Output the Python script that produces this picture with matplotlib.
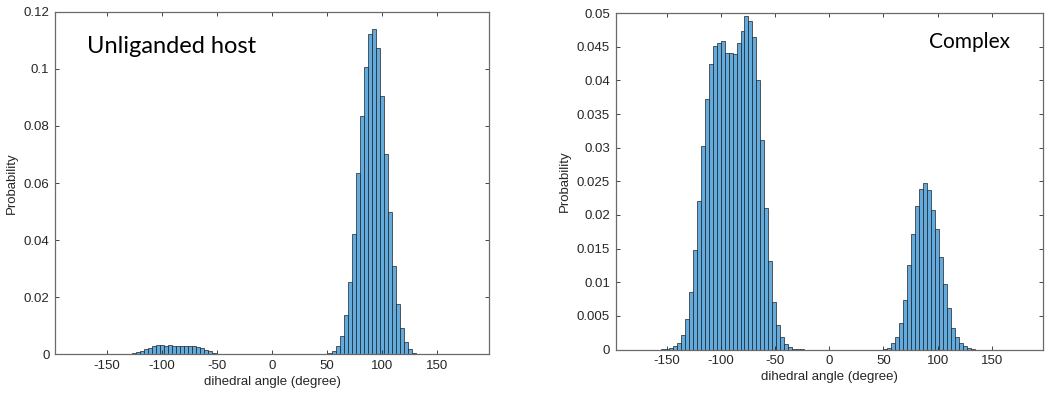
import numpy as np
import matplotlib
matplotlib.use("Agg")
import matplotlib.pyplot as plt
from matplotlib.ticker import FuncFormatter

# --- data (probability per bin) ---
host_bin_w = 3.64
host_lump_c0 = -129.38      # centre of first bin of the small negative lump
host_lump = [0.0001, 0.00035, 0.0007, 0.0013, 0.0019, 0.0023, 0.0029, 0.0032,
             0.0032, 0.0030, 0.0032, 0.0031, 0.0030, 0.0030, 0.0030, 0.0029,
             0.0028, 0.0026, 0.0021, 0.0016, 0.0011, 0.0006, 0.0002]
host_peak_c0 = 48.99
host_peak = [0.0001, 0.0006, 0.0013, 0.0029, 0.0065, 0.0138, 0.0255, 0.0421,
             0.0635, 0.0833, 0.1005, 0.1120, 0.1140, 0.1071, 0.0903, 0.0703,
             0.0500, 0.0311, 0.0176, 0.0091, 0.0044, 0.0018, 0.0006, 0.0002]

cplx_bin_w = 3.66
cplx_main_c0 = -153.16
cplx_main = [0.00005, 0.0001, 0.00025, 0.0005, 0.0010, 0.0022, 0.0045, 0.0085,
             0.0148, 0.0221, 0.0303, 0.0372, 0.0425, 0.0451, 0.0455, 0.0458,
             0.0440, 0.0441, 0.0439, 0.0455, 0.0474, 0.0496, 0.0488, 0.0465,
             0.0401, 0.0312, 0.0210, 0.0132, 0.0071, 0.0036, 0.0018, 0.0008,
             0.0004, 0.0001, 0.00005, 0.00003]
cplx_side_c0 = 51.8
cplx_side = [0.0001, 0.00025, 0.0009, 0.0018, 0.0040, 0.0073, 0.0125, 0.0171,
             0.0214, 0.0238, 0.0247, 0.0237, 0.0208, 0.0179, 0.0138, 0.0098,
             0.0062, 0.0032, 0.0019, 0.0010, 0.0005, 0.0002, 0.0001]

x_ticks = [-150, -100, -50, 0, 50, 100, 150]
host_yticks = [0, 0.02, 0.04, 0.06, 0.08, 0.1, 0.12]
cplx_yticks = [0, 0.005, 0.01, 0.015, 0.02, 0.025, 0.03, 0.035, 0.04, 0.045, 0.05]

plt.rcParams['font.family'] = ['Liberation Sans', 'DejaVu Sans']
plt.rcParams['axes.unicode_minus'] = False

face = (0.38, 0.67, 0.87)
axcol = '#6a6a6a'

fig = plt.figure(figsize=(10.5, 4.01), dpi=100)
ax1 = fig.add_axes([0.0524, 0.116, 0.4133, 0.855])
ax2 = fig.add_axes([0.5862, 0.1284, 0.4071, 0.839])


def draw(ax, segs, w, ymax, yticks, label, lx, ly, lsize):
    for c0, vals in segs:
        centers = c0 + w * np.arange(len(vals))
        ax.bar(centers, vals, width=w, color=face, edgecolor='#202020',
               linewidth=0.5)
    ax.set_xlim(-197, 197)
    ax.set_ylim(0, ymax)
    ax.set_xticks(x_ticks)
    ax.set_xticklabels([str(t) for t in x_ticks])
    ax.set_yticks(yticks)
    ax.yaxis.set_major_formatter(FuncFormatter(lambda v, p: '%g' % v))
    ax.tick_params(direction='in', top=True, right=True, length=3,
                   labelsize=9.5, colors='#262626', width=0.6, pad=4)
    for s in ax.spines.values():
        s.set_color(axcol)
        s.set_linewidth(0.9)
    ax.set_xlabel('dihedral angle (degree)', fontsize=9.5, color='#262626',
                  labelpad=3)
    ax.set_ylabel('Probability', fontsize=9.5, color='#262626', labelpad=4)
    ax.text(lx, ly, label, transform=ax.transAxes, fontsize=lsize,
            family=['Lato', 'DejaVu Sans'], va='baseline', ha='left')


draw(ax1, [(host_lump_c0, host_lump), (host_peak_c0, host_peak)],
     host_bin_w, 0.12, host_yticks, 'Unliganded host', 0.074, 0.879, 17)
draw(ax2, [(cplx_main_c0, cplx_main), (cplx_side_c0, cplx_side)],
     cplx_bin_w, 0.05, cplx_yticks, 'Complex', 0.733, 0.896, 15)

fig.savefig('out.png', dpi=100)
